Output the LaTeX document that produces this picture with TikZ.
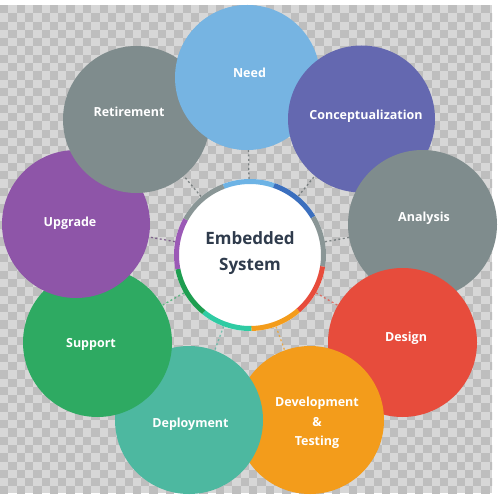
\documentclass[tikz,border=0pt]{standalone}
\usepackage{fontspec}
\setmainfont{Open Sans}
\definecolor{chkL}{HTML}{D7D7D7}
\definecolor{chkD}{HTML}{BEBEBE}
\definecolor{cNeed}{HTML}{76B4E2}
\definecolor{cConc}{HTML}{6468B0}
\definecolor{cGray}{HTML}{7F8C8D}
\definecolor{cDesign}{HTML}{E74C3C}
\definecolor{cDev}{HTML}{F39C1B}
\definecolor{cDeploy}{HTML}{4DB8A0}
\definecolor{cSupport}{HTML}{2EAA62}
\definecolor{cUpgrade}{HTML}{8E55A8}
\definecolor{rNeed}{HTML}{6DB3E5}
\definecolor{rConc}{HTML}{3B6FBE}
\definecolor{rGray}{HTML}{8A9696}
\definecolor{rDeploy}{HTML}{2FCBA3}
\definecolor{rSupport}{HTML}{1E9E50}
\definecolor{rUpgrade}{HTML}{9B59B6}
\definecolor{hubText}{HTML}{2F3B4C}
\tikzset{
  phase/.style={circle, inner sep=0pt, minimum size=#1},
  lbl/.style={text=white, font=\fontsize{12.5}{19.5}\selectfont\bfseries, align=center, inner sep=0pt},
  link/.style={line width=1.3pt, dash pattern=on 2pt off 2.5pt, opacity=0.7},
  ringseg/.style={line width=5pt}
}
\begin{document}
\begin{tikzpicture}[x=1pt,y=-1pt]
\useasboundingbox (0,0) rectangle (500,500);
\fill[white] (0,0) rectangle (500,500);
% checkerboard background
\fill[chkL] (0,5) rectangle (492,493);
\begin{scope}
\clip (0,5) rectangle (492,493);
\foreach \i in {0,...,59} {
  \foreach \j in {0,2,...,58} {
    \pgfmathsetmacro\jj{\j+mod(\i,2)}
    \fill[chkD] (\i*8.3,5+\jj*8.3) rectangle +(8.3,8.3);
  }
}
\end{scope}
% hub
\node[phase=152pt, fill=white] (hub) at (250,255) {};
% outer circles
\node[phase=145pt, fill=cNeed] (need) at (247.5,77.5) {};
\node[phase=147pt, fill=cConc] (conc) at (361.5,119) {};
\node[phase=149pt, fill=cGray] (anal) at (422.5,224.5) {};
\node[phase=149pt, fill=cDesign] (design) at (402.5,342.5) {};
\node[phase=148pt, fill=cDev] (dev) at (310,420) {};
\node[phase=148pt, fill=cDeploy] (deploy) at (189,420) {};
\node[phase=149pt, fill=cSupport] (support) at (97.5,342.5) {};
\node[phase=148pt, fill=cUpgrade] (upgrade) at (76,224) {};
\node[phase=147pt, fill=cGray] (retire) at (136.5,119.5) {};
% Need over Retirement
\begin{scope}
\clip (150,0) rectangle (250,160);
\fill[cNeed] (need.center) circle[radius=72.5];
\end{scope}
% ring segments
\foreach \a/\b/\c in {-111/-71/rNeed, -71/-31/rConc, -31/9/rGray, 9/49/cDesign, 49/89/cDev, 89/129/rDeploy, 129/169/rSupport, 169/209/rUpgrade, 209/249/rGray} {
  \draw[ringseg, \c] (hub.center) ++(\a:73.5) arc[start angle=\a, end angle=\b, radius=73.5];
}
% dotted links
\draw[link, cGray!70!black] (hub) -- (need);
\draw[link, cGray!70!black] (hub) -- (conc);
\draw[link, cGray!70!black] (hub) -- (anal);
\draw[link, cDesign] (hub) -- (design);
\draw[link, cDev] (hub) -- (dev);
\draw[link, cDeploy] (hub) -- (deploy);
\draw[link, cSupport] (hub) -- (support);
\draw[link, cUpgrade!70!black] (hub) -- (upgrade);
\draw[link, cGray!70!black] (hub) -- (retire);
% labels
\node[font=\fontsize{17}{26}\selectfont\bfseries, text=hubText, align=center, inner sep=0pt] (hubT) at (250,253) {Embedded\\System};
\node[lbl] (needT) at (249.5,73) {Need};
\node[lbl] (concT) at (366,116) {Conceptualization};
\node[lbl] (analT) at (424,218) {Analysis};
\node[lbl] (designT) at (406,338) {Design};
\node[lbl] (devT) at (317,423) {Development\\\&\\Testing};
\node[lbl] (deployT) at (190.5,424) {Deployment};
\node[lbl] (supportT) at (91,344) {Support};
\node[lbl] (upgradeT) at (70,223) {Upgrade};
\node[lbl] (retireT) at (129,112) {Retirement};
\end{tikzpicture}
\end{document}
